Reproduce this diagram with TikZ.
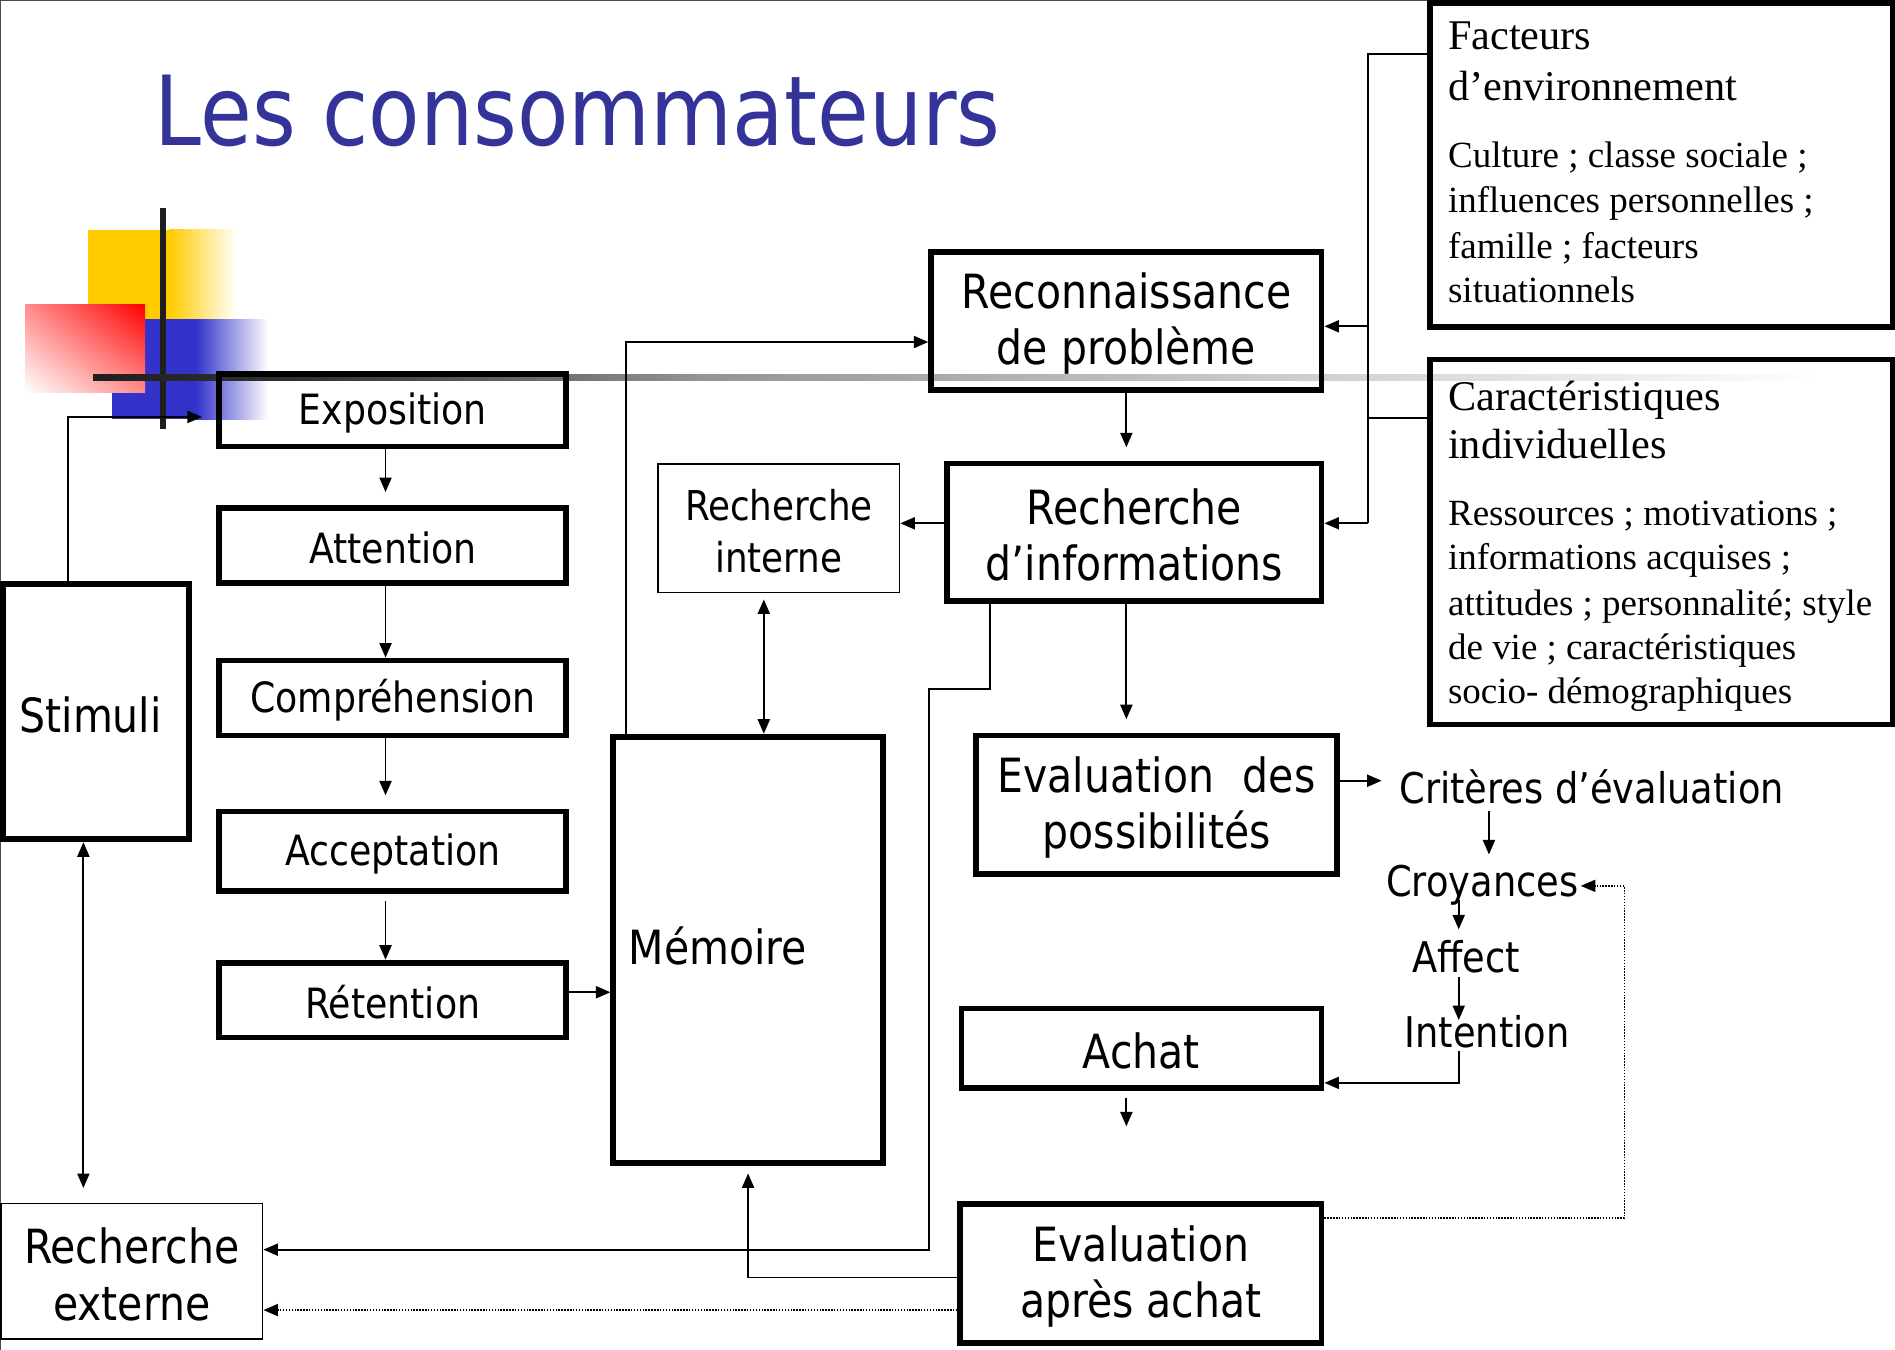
\documentclass[tikz,border=0pt]{standalone}
\usepackage{fontspec}
\newfontfamily\sansC[FakeStretch=0.87]{DejaVu Sans}
\newfontfamily\serifT{Liberation Serif}
\usetikzlibrary{arrows.meta,calc,shadings}
\definecolor{titleblue}{RGB}{51,51,153}
\definecolor{decoyellow}{RGB}{255,204,0}
\definecolor{decoblue}{RGB}{51,51,204}
\definecolor{decored}{RGB}{255,0,0}
% struts that lower the first line of boxed labels slightly
\newcommand\tallA{\rule{0pt}{34pt}}
\newcommand\tallB{\rule{0pt}{30.5pt}}

\begin{document}
\begin{tikzpicture}[x=1pt,y=-1pt,
  stagebox/.style={draw, line width=4.8pt, outer sep=2.4pt, inner sep=0pt, align=center,
    font=\sansC\fontsize{39}{47}\selectfont},
  smallstage/.style={stagebox, font=\sansC\fontsize{34.5}{42}\selectfont},
  thinbox/.style={draw, line width=1.5pt, outer sep=0.75pt, inner sep=0pt, align=center},
  infobox/.style={draw, line width=4.8pt, outer sep=2.4pt, inner sep=0pt},
  freetext/.style={inner sep=0pt, anchor=base, font=\sansC\fontsize{35}{42}\selectfont},
  headline/.style={inner sep=0pt, anchor=base west, font=\serifT\fontsize{35}{42}\selectfont},
  bodyline/.style={inner sep=0pt, anchor=base west, font=\serifT\fontsize{30.6}{37}\selectfont},
  link/.style={line width=1.5pt},
  arr/.style={link, -{Triangle[length=12pt,width=10pt]}},
  dblarr/.style={link, {Triangle[length=12pt,width=10pt]}-{Triangle[length=12pt,width=10pt]}},
  dotarr/.style={line width=1.3pt, dash pattern=on 1.2pt off 1.2pt, -{Triangle[length=12pt,width=10pt]}},
]
\useasboundingbox (0,0) rectangle (1568,1117);

% slide frame
\draw[black!70, line width=1.2pt] (1181,0.6) -- (0.6,0.6) -- (0.6,1117);

% corner ornament
\fill[decoyellow] (73,190) rectangle (140,264);
\shade[left color=decoyellow, right color=white] (140,190) rectangle (196,264);
\fill[decoblue] (93,264) rectangle (162,347);
\shade[left color=decoblue, right color=white] (162,264) rectangle (222,347);
\shade[upper left=decored!45!white, upper right=decored, lower left=white, lower right=decored!45!white]
  (21,252) rectangle (120,325);
\draw[black!88, line width=5pt] (135,172) -- (135,355);
\shade[left color=black!88, right color=black!80] (77,309.5) rectangle (260,314.5);
\shade[left color=black!80, right color=black!42] (260,309.5) rectangle (580,314.5);
\shade[left color=black!42, right color=black!14] (580,309.5) rectangle (1190,314.5);
\shade[left color=black!14, right color=white] (1190,309.5) rectangle (1506,314.5);

% title
\node[inner sep=0pt, anchor=base west, text=titleblue, font=\sansC\fontsize{80}{90}\selectfont]
  (title) at (128,120.5) {Les consommateurs};

% perception chain
\node[smallstage, minimum width=287pt, minimum height=60pt] (expo) at (325,339.5) {\tallB Exposition};
\node[smallstage, minimum width=287pt, minimum height=62pt] (attn) at (325,451.5) {\tallB Attention};
\node[smallstage, minimum width=287pt, minimum height=62pt] (comp) at (325,577.5) {\tallB Compréhension};
\node[smallstage, minimum width=287pt, minimum height=66pt] (accept) at (325,704.5) {\tallB Acceptation};
\node[smallstage, minimum width=287pt, minimum height=62pt] (reten) at (325,827.5) {\tallB Rétention};

\node[stagebox, minimum width=154pt, minimum height=211pt] (stimuli) at (79.5,589) {\hspace*{-9pt}\tallA Stimuli};
\node[thinbox, minimum width=216.5pt, minimum height=112.5pt, font=\sansC\fontsize{39}{47}\selectfont]
  (recext) at (109,1052) {\tallA Recherche\\externe};

\node[stagebox, minimum width=223pt, minimum height=353pt] (memoire) at (619,786) {};
\node[inner sep=0pt, anchor=base west, font=\sansC\fontsize{39}{47}\selectfont] (memlabel) at (520,798) {Mémoire};
\node[thinbox, minimum width=199.5pt, minimum height=106.5pt, font=\sansC\fontsize{34}{43}\selectfont]
  (recint) at (644.5,437) {\tallB Recherche\\interne};

% decision process
\node[stagebox, minimum width=323pt, minimum height=114pt] (recon) at (932,265.5) {\tallA Reconnaissance\\de problème};
\node[stagebox, minimum width=310pt, minimum height=114pt] (recinfo) at (938.5,440.5) {\tallA Recherche\\d’informations};
\node[stagebox, minimum width=299pt, minimum height=115pt] (evalposs) at (957,666)
  {\tallA\makebox[263pt]{Evaluation\hfill des}\\possibilités};
\node[stagebox, minimum width=298pt, minimum height=66pt] (achat) at (944.5,867.5) {\tallA Achat};
\node[stagebox, minimum width=299pt, minimum height=115pt] (evalapres) at (944,1054) {\tallA Evaluation\\après achat};

% evaluation criteria chain
\node[freetext] (crit) at (1317,665) {Critères d’évaluation};
\node[freetext] (croy) at (1226.5,742) {Croyances};
\node[freetext] (affect) at (1213,805) {Affect};
\node[freetext] (intent) at (1230.5,867) {Intention};

% influencing factors
\node[infobox, minimum width=382.5pt, minimum height=268pt] (facteurs) at (1374.75,136.5) {};
\node[headline] (f1) at (1198,41) {Facteurs};
\node[headline] (f2) at (1198,83) {d’environnement};
\node[bodyline] (f3) at (1198,139) {Culture ; classe sociale ;};
\node[bodyline] (f4) at (1198,176) {influences personnelles ;};
\node[bodyline] (f5) at (1198,213.5) {famille ; facteurs};
\node[bodyline] (f6) at (1198,250) {situationnels};

\node[infobox, minimum width=382.5pt, minimum height=302pt] (caract) at (1374.75,448.5) {};
\node[headline] (c1) at (1198,340) {Caractéristiques};
\node[headline] (c2) at (1198,379) {individuelles};
\node[bodyline] (c3) at (1198,435) {Ressources ; motivations ;};
\node[bodyline] (c4) at (1198,471) {informations acquises ;};
\node[bodyline] (c5) at (1198,509) {attitudes ; personnalité; style};
\node[bodyline] (c6) at (1198,545.5) {de vie ; caractéristiques};
\node[bodyline] (c7) at (1198,582) {socio- démographiques};

% connector columns
\coordinate (cL) at (319,0);
\coordinate (cM) at (932,0);
\coordinate (cI) at (632,0);
\coordinate (cS) at (69,0);
\coordinate (sx) at (56,0);
\coordinate (mx) at (518,0);
\coordinate (kx) at (819,0);
\coordinate (kc) at (1232,0);
\coordinate (kk) at (1207,0);
\coordinate (cB) at (1132,0);
\coordinate (jog) at (769,570);
\coordinate (achatout) at (932,932);
\coordinate (dcorner) at (1344,733);

% perception chain links
\draw[arr, shorten >=11pt] (expo.south -| cL) -- (attn.north -| cL);
\draw[arr] (attn.south -| cL) -- (comp.north -| cL);
\draw[arr, shorten >=11pt] (comp.south -| cL) -- (accept.north -| cL);
\draw[arr, shorten <=6pt] (accept.south -| cL) -- (reten.north -| cL);
\draw[arr] ([yshift=6.5pt]reten.east) -- ([yshift=6.5pt]reten.east -| memoire.west);
\draw[arr, shorten >=12pt] (stimuli.north -| sx) |- ([yshift=-5.5pt]expo.west);
\draw[dblarr, shorten >=12pt] (stimuli.south -| cS) -- (recext.north -| cS);

% memory and search links
\draw[arr] (memoire.north -| mx) |- ([yshift=-17.5pt]recon.west);
\draw[arr] ([yshift=7.5pt]recinfo.west) -- ([yshift=7.5pt]recinfo.west -| recint.east);
\draw[dblarr, shorten <=5pt] (recint.south -| cI) -- (memoire.north -| cI);
\draw[arr, shorten >=11pt] (recon.south -| cM) -- (recinfo.north -| cM);
\draw[arr, shorten >=11pt] (recinfo.south -| cM) -- (evalposs.north -| cM);
\draw[arr] (recinfo.south -| kx) |- (jog) |- ([yshift=18pt]recext.east);

% evaluation links
\draw[arr, shorten >=14.5pt] ([yshift=20pt]evalposs.east) -- ([yshift=20pt]evalposs.east -| crit.west);
\draw[arr] ($(crit.base -| kc)+(0,6)$) -- ($(croy.base -| kc)+(0,-35)$);
\draw[arr] ($(croy.base -| kk)+(0,3)$) -- ($(affect.base -| kk)+(0,-36)$);
\draw[arr] ($(affect.base -| kk)+(0,3)$) -- ($(intent.base -| kk)+(0,-23)$);
\draw[arr] ($(intent.base -| kk)+(0,3)$) |- ([yshift=-28.5pt]achat.east);
\draw[arr, shorten <=6pt] (achat.south -| cM) -- (achatout);

% post-purchase feedback
\draw[arr, shorten >=6pt] ([yshift=-3pt]evalapres.west) -| (memoire.south);
\draw[dotarr] ([yshift=-30pt]evalapres.west) -- ([yshift=-30pt]evalapres.west -| recext.east);
\draw[dotarr] ([yshift=46pt]evalapres.east) -| (dcorner) -- ($(croy.base)+(81.5,-9)$);

% external influences
\draw[link] ([yshift=91.5pt]facteurs.west) -| ([yshift=7.5pt]recinfo.east -| cB);
\draw[link] ([yshift=102.5pt]caract.west) -- ([yshift=102.5pt]caract.west -| cB);
\draw[arr] ([yshift=-4.5pt]recon.east -| cB) -- ([yshift=-4.5pt]recon.east);
\draw[arr] ([yshift=7.5pt]recinfo.east -| cB) -- ([yshift=7.5pt]recinfo.east);

\end{tikzpicture}
\end{document}
